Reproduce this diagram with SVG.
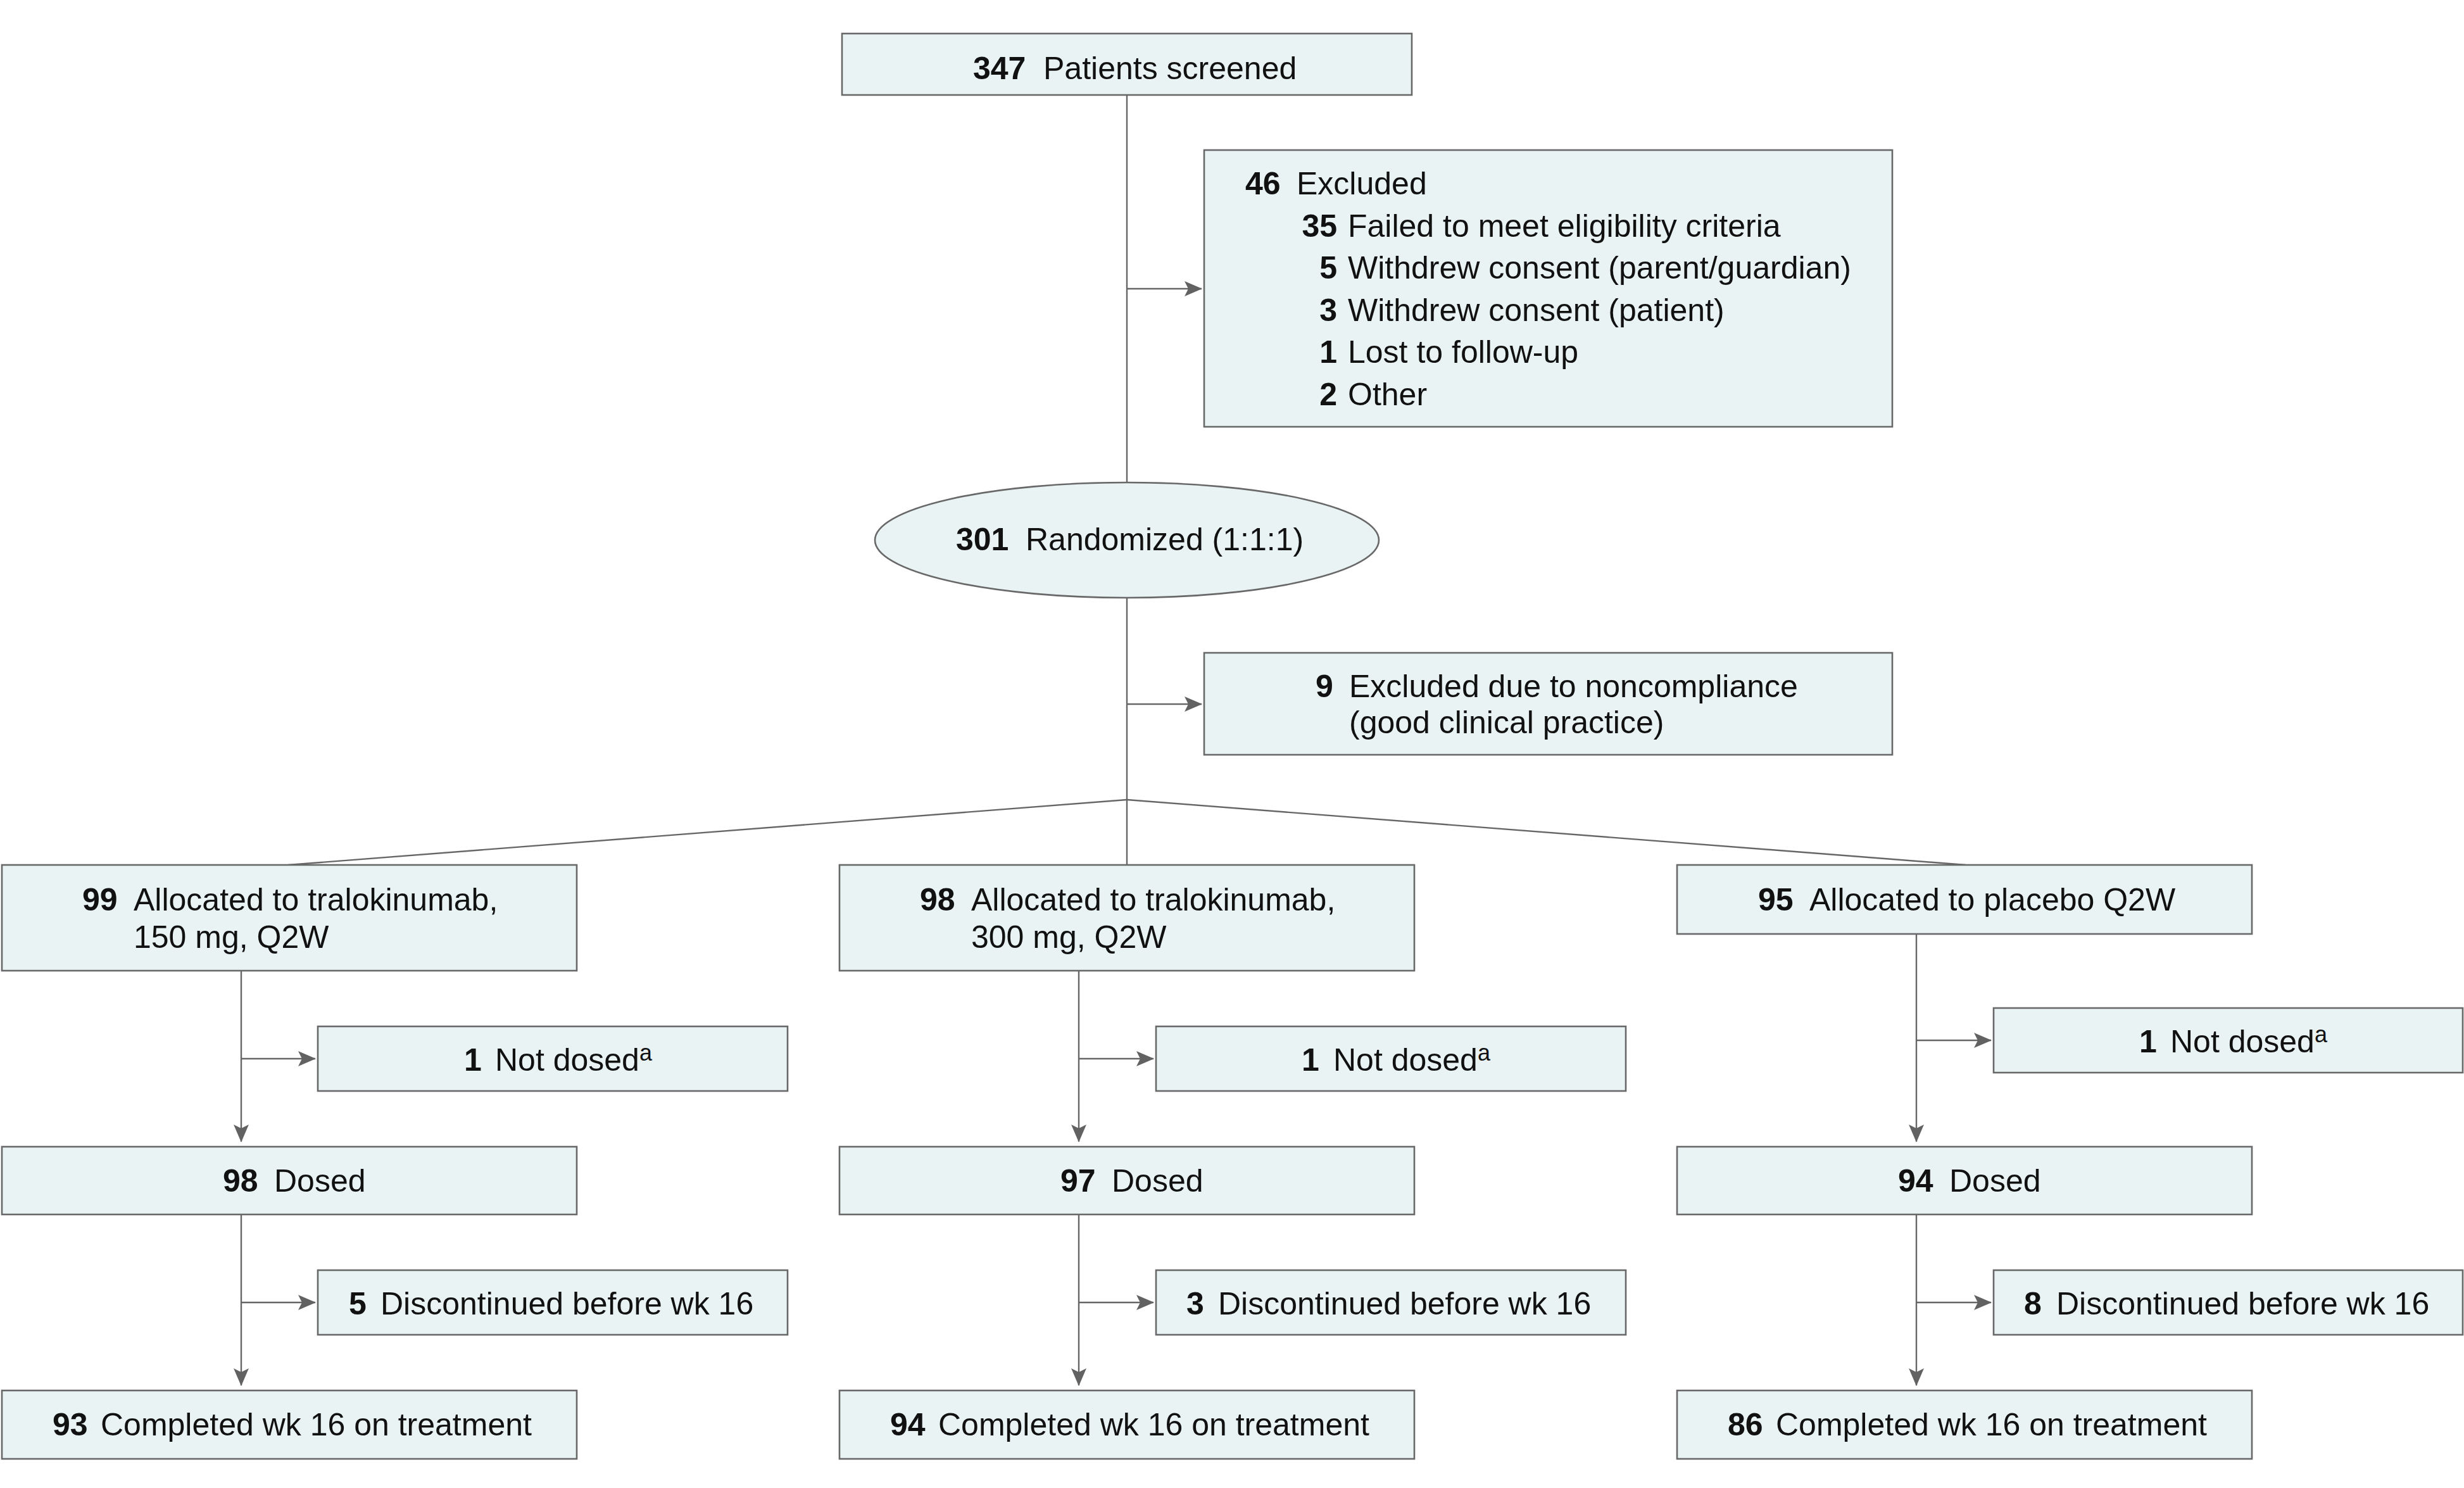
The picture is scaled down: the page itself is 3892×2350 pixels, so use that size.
<svg xmlns="http://www.w3.org/2000/svg" width="3892" height="2350" viewBox="0 0 3892 2350">
<defs>
<style>
.box{fill:#e9f3f4;stroke:#686868;stroke-width:2.6}
.ln{fill:none;stroke:#666666;stroke-width:2.4}
.ar{marker-end:url(#ah)}
text{font-family:"Liberation Sans",Arial,sans-serif;font-size:50px;fill:#111}
.n{font-weight:bold}
.sup{font-size:36px}
</style>
<marker id="ah" markerUnits="userSpaceOnUse" viewBox="0 0 28 24" markerWidth="28" markerHeight="24" refX="27" refY="12" orient="auto">
<path d="M0,0 L28,12 L0,24 L6,12 Z" fill="#626262"/>
</marker>
</defs>
<rect width="3892" height="2350" fill="#ffffff"/>

<g id="connectors">
<path class="ln" d="M1780,150 V762"/>
<path class="ln ar" d="M1780,456 H1898"/>
<path class="ln" d="M1780,944 V1366"/>
<path class="ln ar" d="M1780,1112 H1898"/>
<path class="ln" d="M1780,1263 L455,1366"/>
<path class="ln" d="M1780,1263 L3105,1366"/>
<path class="ln ar" d="M381,1533 V1803"/>
<path class="ln ar" d="M381,1672 H498"/>
<path class="ln ar" d="M381,1918 V2188"/>
<path class="ln ar" d="M381,2057 H498"/>
<path class="ln ar" d="M1704,1533 V1803"/>
<path class="ln ar" d="M1704,1672 H1822"/>
<path class="ln ar" d="M1704,1918 V2188"/>
<path class="ln ar" d="M1704,2057 H1822"/>
<path class="ln ar" d="M3027,1475 V1803"/>
<path class="ln ar" d="M3027,1643 H3145"/>
<path class="ln ar" d="M3027,1918 V2188"/>
<path class="ln ar" d="M3027,2057 H3145"/>
</g>

<g id="screened">
<rect class="box" x="1330" y="53" width="900" height="97"/>
<text y="125"><tspan class="n" x="1537">347</tspan><tspan x="1648">Patients screened</tspan></text>
</g>

<g id="excluded">
<rect class="box" x="1902" y="237" width="1087" height="437"/>
<text y="307"><tspan class="n" x="1967">46</tspan><tspan x="2048">Excluded</tspan></text>
<text y="374"><tspan class="n" x="2112" text-anchor="end">35</tspan><tspan x="2129">Failed to meet eligibility criteria</tspan></text>
<text y="440"><tspan class="n" x="2112" text-anchor="end">5</tspan><tspan x="2129">Withdrew consent (parent/guardian)</tspan></text>
<text y="507"><tspan class="n" x="2112" text-anchor="end">3</tspan><tspan x="2129">Withdrew consent (patient)</tspan></text>
<text y="573"><tspan class="n" x="2112" text-anchor="end">1</tspan><tspan x="2129">Lost to follow-up</tspan></text>
<text y="640"><tspan class="n" x="2112" text-anchor="end">2</tspan><tspan x="2129">Other</tspan></text>
</g>

<g id="randomized">
<ellipse class="box" cx="1780" cy="853" rx="398" ry="91"/>
<text y="869"><tspan class="n" x="1510">301</tspan><tspan x="1620">Randomized (1:1:1)</tspan></text>
</g>

<g id="noncompliance">
<rect class="box" x="1902" y="1031" width="1087" height="161"/>
<text y="1101"><tspan class="n" x="2078">9</tspan><tspan x="2131">Excluded due to noncompliance</tspan></text>
<text x="2131" y="1158">(good clinical practice)</text>
</g>

<g id="alloc150">
<rect class="box" x="3" y="1366" width="908" height="167"/>
<text y="1438"><tspan class="n" x="130">99</tspan><tspan x="211">Allocated to tralokinumab,</tspan></text>
<text x="211" y="1497">150 mg, Q2W</text>
</g>
<g id="alloc300">
<rect class="box" x="1326" y="1366" width="908" height="167"/>
<text y="1438"><tspan class="n" x="1453">98</tspan><tspan x="1534">Allocated to tralokinumab,</tspan></text>
<text x="1534" y="1497">300 mg, Q2W</text>
</g>
<g id="allocPlacebo">
<rect class="box" x="2649" y="1366" width="908" height="109"/>
<text y="1438"><tspan class="n" x="2777">95</tspan><tspan x="2858">Allocated to placebo Q2W</tspan></text>
</g>

<g id="notdosed150">
<rect class="box" x="502" y="1621" width="742" height="102"/>
<text y="1691"><tspan class="n" x="733">1</tspan><tspan x="782">Not dosed</tspan><tspan class="sup" dy="-16">a</tspan></text>
</g>
<g id="notdosed300">
<rect class="box" x="1826" y="1621" width="742" height="102"/>
<text y="1691"><tspan class="n" x="2056">1</tspan><tspan x="2106">Not dosed</tspan><tspan class="sup" dy="-16">a</tspan></text>
</g>
<g id="notdosedPlacebo">
<rect class="box" x="3149" y="1592" width="741" height="102"/>
<text y="1662"><tspan class="n" x="3379">1</tspan><tspan x="3428">Not dosed</tspan><tspan class="sup" dy="-16">a</tspan></text>
</g>

<g id="dosed150">
<rect class="box" x="3" y="1811" width="908" height="107"/>
<text y="1882"><tspan class="n" x="352">98</tspan><tspan x="433">Dosed</tspan></text>
</g>
<g id="dosed300">
<rect class="box" x="1326" y="1811" width="908" height="107"/>
<text y="1882"><tspan class="n" x="1675">97</tspan><tspan x="1756">Dosed</tspan></text>
</g>
<g id="dosedPlacebo">
<rect class="box" x="2649" y="1811" width="908" height="107"/>
<text y="1882"><tspan class="n" x="2998">94</tspan><tspan x="3079">Dosed</tspan></text>
</g>

<g id="disc150">
<rect class="box" x="502" y="2006" width="742" height="102"/>
<text y="2076"><tspan class="n" x="551">5</tspan><tspan x="601">Discontinued before wk 16</tspan></text>
</g>
<g id="disc300">
<rect class="box" x="1826" y="2006" width="742" height="102"/>
<text y="2076"><tspan class="n" x="1874">3</tspan><tspan x="1924">Discontinued before wk 16</tspan></text>
</g>
<g id="discPlacebo">
<rect class="box" x="3149" y="2006" width="741" height="102"/>
<text y="2076"><tspan class="n" x="3197">8</tspan><tspan x="3248">Discontinued before wk 16</tspan></text>
</g>

<g id="completed150">
<rect class="box" x="3" y="2196" width="908" height="108"/>
<text y="2267"><tspan class="n" x="83">93</tspan><tspan x="159">Completed wk 16 on treatment</tspan></text>
</g>
<g id="completed300">
<rect class="box" x="1326" y="2196" width="908" height="108"/>
<text y="2267"><tspan class="n" x="1406">94</tspan><tspan x="1482">Completed wk 16 on treatment</tspan></text>
</g>
<g id="completedPlacebo">
<rect class="box" x="2649" y="2196" width="908" height="108"/>
<text y="2267"><tspan class="n" x="2729">86</tspan><tspan x="2805">Completed wk 16 on treatment</tspan></text>
</g>
</svg>
